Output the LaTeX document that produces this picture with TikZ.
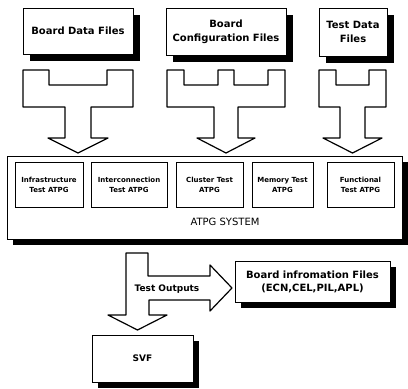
\documentclass[tikz,border=0pt]{standalone}
\usepackage{fontspec}
\setmainfont{DejaVu Sans}
\usetikzlibrary{shadows}
\tikzset{
  shd/.style={drop shadow={shadow xshift=#1, shadow yshift=-#1, fill=black, opacity=1}},
  filebox/.style={draw=black, line width=0.7pt, fill=white, inner sep=0pt, align=center,
    font=\bfseries\fontsize{10}{14}\selectfont},
  atpgbox/.style={draw=black, line width=0.7pt, fill=white, inner sep=0pt, align=center,
    font=\bfseries\fontsize{7}{10}\selectfont},
  blockarrow/.style={draw=black, line width=1.2pt, fill=white, line join=round},
}
\begin{document}
\begin{tikzpicture}[x=1pt,y=-1pt]
\useasboundingbox (0,0) rectangle (408,389);

% top file boxes
\node[filebox, shd=7pt, minimum width=110pt, minimum height=46pt] (bdf) at (78,31) {Board Data Files};
\node[filebox, shd=7pt, minimum width=120pt, minimum height=47pt] (bcf) at (226,31.5) {Board\\Configuration Files};
\node[filebox, shd=7pt, minimum width=68pt, minimum height=48pt] (tdf) at (353,32) {Test Data\\Files};

% fork arrows
\draw[blockarrow] (23,70) -- (49,70) -- (49,85) -- (107,85) -- (107,70) -- (133,70) -- (133,107)
  -- (91,107) -- (91,138) -- (108,138) -- (78,153) -- (48,138) -- (65,138) -- (65,107) -- (23,107) -- cycle;
\draw[blockarrow] (167,70) -- (184,70) -- (184,85) -- (218,85) -- (218,70) -- (234,70) -- (234,85)
  -- (268,85) -- (268,70) -- (285,70) -- (285,107) -- (238,107) -- (238,138) -- (255,138) -- (226,153)
  -- (197,138) -- (214,138) -- (214,107) -- (167,107) -- cycle;
\draw[blockarrow] (319,70) -- (336,70) -- (336,85) -- (369,85) -- (369,70) -- (386,70) -- (386,107)
  -- (365,107) -- (365,138) -- (382,138) -- (352.5,153) -- (323,138) -- (340,138) -- (340,107) -- (319,107) -- cycle;

% ATPG system
\node[draw=black, line width=0.7pt, fill=white, shd=6pt, minimum width=395pt, minimum height=83pt, inner sep=0pt] (sys) at (204.5,197.5) {};
\node[atpgbox, minimum width=68pt, minimum height=45pt] (infra) at (49,184.5) {Infrastructure\\Test ATPG};
\node[atpgbox, minimum width=76pt, minimum height=45pt] (inter) at (129,184.5) {Interconnection\\Test ATPG};
\node[atpgbox, minimum width=67pt, minimum height=45pt] (clus) at (209.5,184.5) {Cluster Test\\ATPG};
\node[atpgbox, minimum width=61pt, minimum height=45pt] (mem) at (282.5,184.5) {Memory Test\\ATPG};
\node[atpgbox, minimum width=67pt, minimum height=45pt] (func) at (360.5,184.5) {Functional\\Test ATPG};
\node[font=\fontsize{10}{12}\selectfont, inner sep=0pt] (systxt) at (225,222) {ATPG SYSTEM};

% output arrow
\draw[blockarrow] (126,253) -- (148,253) -- (148,276) -- (210,276) -- (210,265) -- (232,288) -- (210,311)
  -- (210,300) -- (149,300) -- (149,315) -- (167,315) -- (137.5,330) -- (108,315) -- (126,315) -- cycle;
\node[font=\bfseries\fontsize{9}{11}\selectfont, inner sep=0pt] (tout) at (167,289) {Test Outputs};

% output boxes
\node[filebox, shd=6pt, minimum width=155pt, minimum height=41pt, font=\bfseries\fontsize{10}{13}\selectfont] (bif) at (312.5,281.5) {Board infromation Files\\(ECN,CEL,PIL,APL)};
\node[filebox, shd=6pt, minimum width=101pt, minimum height=47pt, font=\bfseries\fontsize{9}{11}\selectfont] (svf) at (142.5,358.5) {SVF};
\end{tikzpicture}
\end{document}
